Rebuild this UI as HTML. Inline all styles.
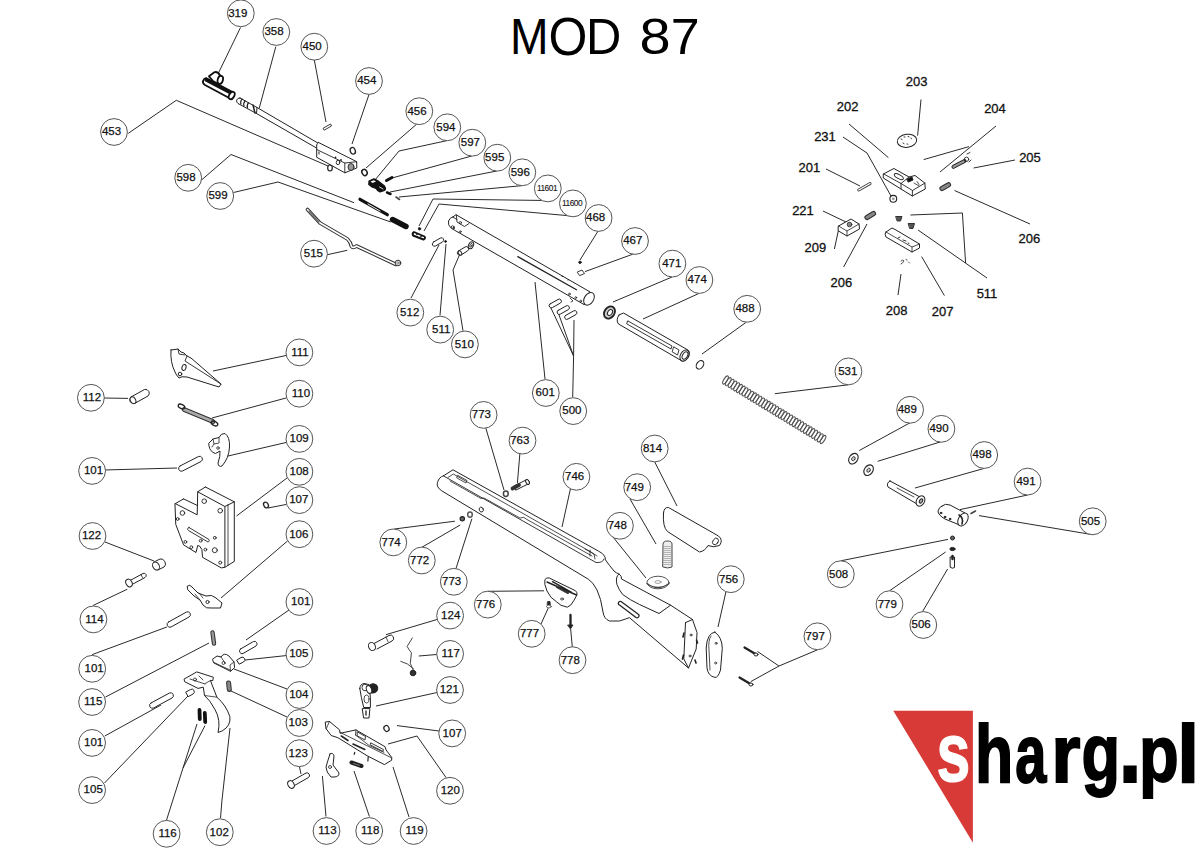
<!DOCTYPE html><html><head><meta charset="utf-8"><style>html,body{margin:0;padding:0;background:#fff;width:1200px;height:848px;overflow:hidden}svg{display:block}text{font-family:"Liberation Sans",sans-serif}</style></head><body>
<svg width="1200" height="848" viewBox="0 0 1200 848">
<text x="0" y="0" font-size="49.71" transform="translate(509.91 53.75) scale(0.9306 1)" fill="#000">M</text>
<text x="0" y="0" font-size="52.90" transform="translate(548.45 54.67) scale(0.9452 1)" fill="#000">O</text>
<text x="0" y="0" font-size="49.71" transform="translate(586.09 53.75) scale(0.9837 1)" fill="#000">D</text>
<text x="0" y="0" font-size="50.78" transform="translate(639.40 54.09) scale(1.1002 1)" fill="#000">8</text>
<text x="0" y="0" font-size="49.71" transform="translate(670.65 53.75) scale(1.0457 1)" fill="#000">7</text>
<g fill="none" stroke="#2a2a2a" stroke-width="1">
<polyline points="240.5,27.5 218.3,73.3"/>
<polyline points="275.8,46.7 259.2,108.3"/>
<polyline points="314.3,60 326,122"/>
<polyline points="369,94.5 352,144"/>
<polyline points="128.3,133.3 176.3,100.3 328,166"/>
<polyline points="201.5,180 231,154.5 354,202.7"/>
<polyline points="233.5,192.5 278,182 390.7,222"/>
<polyline points="327.3,254.7 347.3,250.3"/>
<polyline points="418,123 366,168"/>
<polyline points="446.7,140.7 399,151 375,180"/>
<polyline points="471.7,156 392,178"/>
<polyline points="496.7,171 390,192"/>
<polyline points="521.7,185.7 399,197"/>
<polyline points="546.7,200.5 433,199 419,226"/>
<polyline points="571.7,216 439,204 424,231"/>
<polyline points="598.3,230.7 580,260"/>
<polyline points="633.3,254 585,271.6"/>
<polyline points="672,277 613,302"/>
<polyline points="699,293.4 643,319"/>
<polyline points="746,322.4 702,354"/>
<polyline points="411,298 439,245"/>
<polyline points="440,315.4 446,244"/>
<polyline points="463,330.7 453,270 459,256"/>
<polyline points="535,282 545,379"/>
<polyline points="550,306 573.6,356 558,312"/>
<polyline points="573.6,356 574,320"/>
<polyline points="573.6,356 572.7,397"/>
<polyline points="848.4,384.8 774.8,393.7"/>
<polyline points="910.2,422.7 859.3,450.5"/>
<polyline points="941.4,441.6 877.7,461.3"/>
<polyline points="984.2,468.4 915,488"/>
<polyline points="1027.6,495 960,509.6"/>
<polyline points="1092.7,534.7 979,515.6"/>
<polyline points="840.8,560.8 948,539.4"/>
<polyline points="889.5,590.8 945.6,552"/>
<polyline points="922.5,611.6 947.6,569"/>
<polyline points="817.5,649.8 779,666 757.5,651.5"/>
<polyline points="779,666 750.8,681.6"/>
<polyline points="726,591.5 718,627"/>
<polyline points="654.5,461.5 677,506"/>
<polyline points="630,499 656,544"/>
<polyline points="613,537 646,578"/>
<polyline points="570.5,488.5 562,527"/>
<polyline points="485.5,427 504,490"/>
<polyline points="520,452 517.4,483"/>
<polyline points="394.4,529 454.9,521.2"/>
<polyline points="422,547.2 460.2,525"/>
<polyline points="456,568.5 471.9,518.7"/>
<polyline points="488,591.3 544,590.8"/>
<polyline points="541,624 548.2,608.2"/>
<polyline points="572.3,647 570.5,627.3"/>
<polyline points="437,619.5 385.9,634.7"/>
<polyline points="436.7,654.5 418.8,656"/>
<polyline points="437,692.5 376,706"/>
<polyline points="439,731 397,725.6"/>
<polyline points="446,777.5 417,736 388,744"/>
<polyline points="409,817 393,767"/>
<polyline points="369.4,816.5 354,771"/>
<polyline points="326,816.5 322.4,776"/>
<polyline points="220.5,818 222,800 230,728"/>
<polyline points="166.5,820.2 183,768 197,724"/>
<polyline points="183,768 205,725.6"/>
<polyline points="104.5,783 188,696"/>
<polyline points="104.8,736 161,705"/>
<polyline points="105.5,697 209,643"/>
<polyline points="92.2,654.6 166.9,627"/>
<polyline points="93,605.5 127.3,589.2"/>
<polyline points="105,542 154,561"/>
<polyline points="104,470 177,468"/>
<polyline points="104,398 128,398.4"/>
<polyline points="286,355.5 213,371"/>
<polyline points="286,398 212,418"/>
<polyline points="286,442.5 228,456"/>
<polyline points="287,478 236.5,516"/>
<polyline points="286,504.5 268,508"/>
<polyline points="287.5,541 221,598"/>
<polyline points="289,610 246,640"/>
<polyline points="286,655.6 245,660"/>
<polyline points="287,689 234,669"/>
<polyline points="287,717 231,691"/>
<polyline points="299.4,766.5 301,774"/>
<polyline points="921,99.5 917.6,135.6"/>
<polyline points="849,124 888.4,157.6"/>
<polyline points="843,137 867,153 891,196"/>
<polyline points="996,126 940,172"/>
<polyline points="969,146.6 923.6,159.6"/>
<polyline points="1015,160 973.6,168"/>
<polyline points="826,169 860,186"/>
<polyline points="954.5,190.5 1030,224"/>
<polyline points="823,211 846,222"/>
<polyline points="834.4,249 838.4,230.4"/>
<polyline points="843.6,267 867,224"/>
<polyline points="910.4,215 962.4,213 965.6,263"/>
<polyline points="918,230 987,278"/>
<polyline points="898,295 901,274"/>
<polyline points="944.4,295.6 921.6,256.6"/>
</g>
<g id="parts" stroke="#222" stroke-width="1" fill="#fff" stroke-linejoin="round" stroke-linecap="round">
<!-- 319 bolt handle -->
<g stroke="#111" stroke-width="1.8">
<path d="M206,78 L233,92.3 Q235.5,96 231.5,99 L229.7,98.3 L205,85 Q202,83 203.3,80.5 Q204,78.5 206,78 Z"/>
<path d="M206.3,79.8 L232,93.3" stroke-width="3.6"/>
<path d="M209,76.3 L214.3,72.3 Q217.5,71 220.3,75.7 L222.5,80 L219,84.5 L213,81 Z"/>
<ellipse cx="220.3" cy="79.8" rx="2.6" ry="4.1" transform="rotate(15 220.3 79.8)"/>
<ellipse cx="231.7" cy="95.5" rx="2.5" ry="4" transform="rotate(30 231.7 95.5)"/>
</g>
<!-- 358 barrel tip + tube -->
<path d="M240,98 L257,107.5 L256.5,113.5 L238,103.5 A3,3 0 0 1 240,98 Z"/>
<path d="M242,99 q-2,3 -1,5 M245,100.8 q-2,3 -1,5 M248.5,102.7 q-2,3 -1,5" fill="none" stroke-width="1.2"/>
<path d="M257,107.5 L317.5,142.8 M256.5,113.5 L316.5,148" fill="none"/>
<path d="M253,105 L255,113" fill="none" stroke-width="1.5"/>
<!-- block -->
<path d="M318.5,142.5 L356.7,161.7 L356.8,168 L344.8,172.8 L316.7,157.3 L316.7,145 Q317,143 318.5,142.5 Z"/>
<path d="M316.7,149.5 L344.8,163 L356.7,161.7 M344.8,163 L344.8,172.8" fill="none" stroke-width="0.9"/>
<ellipse cx="351" cy="167" rx="3" ry="3.5" fill="#999" stroke-width="0.9"/>
<circle cx="335.5" cy="157.5" r="0.9" fill="#222" stroke="none"/><circle cx="341" cy="160" r="0.9" fill="#222" stroke="none"/>
<ellipse cx="338" cy="162.5" rx="1.8" ry="2.2" fill="none" stroke-width="0.9"/>
<path d="M319,152 l0,2" stroke-width="1" fill="none"/>
<!-- 453 ring -->
<ellipse cx="330" cy="168" rx="2.3" ry="3" fill="none" stroke-width="1.2"/>
<!-- 450 pin -->
<path d="M323.5,128 L330.5,124 L331.5,126 L324.5,130 Z" stroke-width="0.9"/>
<!-- 454 o-ring -->
<ellipse cx="352.8" cy="150.8" rx="2.5" ry="3.4" transform="rotate(-20 352.8 150.8)" stroke-width="1.3"/>
<!-- 456 ring -->
<ellipse cx="364.5" cy="172.5" rx="2.5" ry="3.2" transform="rotate(-30 364.5 172.5)" stroke-width="1.5"/>
<!-- 594 T black -->
<path d="M369,181 L374,178.8 L377.5,180.5 L384.5,186 Q386.5,189 384.5,190.5 L380,192 Q377.5,191 376,188.5 L372,187 L368.8,184.5 Z" fill="#111" stroke="#111" stroke-width="1.2"/>
<path d="M370.5,181.5 L374,180.2 L376,181.5 L372.5,183 Z" fill="#fff" stroke="none"/>
<path d="M379.5,187 L383,189" stroke="#fff" stroke-width="0.8"/>
<!-- 597 595 596 small -->
<path d="M386.5,180.5 L392,177.5" stroke="#111" stroke-width="3"/>
<path d="M387,192.5 L390.5,194" stroke="#111" stroke-width="2.5"/>
<path d="M396,197 L399.5,199.5" stroke="#444" stroke-width="1.6"/>
<!-- 598 rod black -->
<path d="M360,199.3 L387.3,214.7" stroke="#111" stroke-width="3.2"/>
<path d="M368,204 L380,211" stroke="#fff" stroke-width="0.9"/>
<!-- 599 spring black -->
<path d="M392.5,219.5 L406,226.5" stroke="#111" stroke-width="5.5" stroke-linecap="round"/>
<!-- 11601 dot, 11600 part -->
<circle cx="419.5" cy="228.8" r="1.2" fill="#111"/>
<path d="M414,232 L424.5,236.5 Q426,238.5 423.5,239.5 L413,235.5 Q412,233 414,232 Z" fill="#fff" stroke="#111" stroke-width="1.9"/><circle cx="417" cy="234.5" r="0.8" fill="#111" stroke="none"/><circle cx="421" cy="236.5" r="0.8" fill="#111" stroke="none"/>
<!-- 515 cocking link -->
<path d="M307.5,209.5 L320,223 L347.5,239 Q350.5,242 351.5,246.5 Q353,248.5 356.5,246 L396,264.5" fill="none" stroke="#333" stroke-width="3.6"/>
<path d="M307.5,209.5 L320,223 L347.5,239 Q350.5,242 351.5,246.5 Q353,248.5 356.5,246 L396,264.5" fill="none" stroke="#fff" stroke-width="1.6"/>
<path d="M309,211 L319,222" fill="none" stroke="#666" stroke-width="1.2"/>
<circle cx="398" cy="263" r="2.8" fill="#fff" stroke="#333" stroke-width="1"/>
<circle cx="398" cy="263" r="1.2" fill="none" stroke="#555" stroke-width="0.7"/>
<!-- 512, 511, 510 -->
<path d="M433.5,242 L440.5,238 A2.2,2.2 0 0 1 442.5,242 L435.5,246 A2.2,2.2 0 0 1 433.5,242 Z"/>
<circle cx="445.6" cy="241.5" r="0.9" fill="#111"/>
<path d="M458.5,251 L465,247 A2.2,2.2 0 0 1 467.5,251 L461,255 A2.2,2.2 0 0 1 458.5,251 Z"/>
<ellipse cx="460" cy="253" rx="1.6" ry="2.3" transform="rotate(-30 460 253)"/>
<ellipse cx="471" cy="245.3" rx="2.4" ry="3.6" transform="rotate(25 471 245.3)"/>
<ellipse cx="471" cy="245.3" rx="1" ry="2" transform="rotate(25 471 245.3)" fill="none" stroke-width="0.8"/>
<!-- receiver tube -->
<path d="M456.3,214.9 L590,291.9 L584.3,304.7 L451.3,228.3 Q447.5,225 448.5,221 Q450,217.5 452.5,217 Z"/>
<path d="M456.3,214.9 L457,222 L464.5,226.5 L469,223.5 M452.5,217 L457,219.5" fill="none" stroke-width="0.9"/>
<ellipse cx="589" cy="298.8" rx="4.6" ry="6.9" transform="rotate(32 589 298.8)"/>
<path d="M517.8,256.6 L576.5,289.8" fill="none" stroke-width="1.3"/>
<circle cx="452.7" cy="227" r="1.3" fill="none" stroke-width="0.8"/><circle cx="454" cy="228" r="0.9" fill="#111" stroke="none"/>
<circle cx="460.3" cy="222.7" r="1.2" fill="none" stroke-width="0.8"/>
<circle cx="460.3" cy="231.7" r="0.9" fill="none" stroke-width="0.8"/>
<circle cx="569.4" cy="294" r="0.9" fill="none" stroke-width="0.8"/><circle cx="575.8" cy="297.6" r="0.9" fill="none" stroke-width="0.8"/>
<circle cx="580.7" cy="301.1" r="0.9" fill="none" stroke-width="0.8"/><path d="M570,298 l3,3 l-2,1" fill="none" stroke-width="0.8"/>
<circle cx="562.3" cy="276.4" r="0.6" fill="#111" stroke="none"/><circle cx="568" cy="280" r="0.6" fill="#111" stroke="none"/>
<!-- 468, 467 -->
<circle cx="580" cy="262.3" r="1.2" fill="#111"/>
<path d="M577.5,272 L582,270 L584.5,273.5 L580,275.5 Z" stroke-width="0.9"/>
<!-- 500 pins -->
<path d="M550,304 L558,299.5 A2,2 0 0 1 560.5,303 L552.5,307.5 A2,2 0 0 1 550,304 Z"/>
<path d="M558,310.5 L566,306 A2,2 0 0 1 568.5,309.5 L560.5,314 A2,2 0 0 1 558,310.5 Z"/>
<path d="M565.5,315.5 L573.5,311 A2,2 0 0 1 576,314.5 L568,319 A2,2 0 0 1 565.5,315.5 Z"/>
<!-- 471 ring -->
<ellipse cx="609.5" cy="312.5" rx="5" ry="6.5" transform="rotate(35 609.5 312.5)" stroke-width="1.8" fill="#ccc"/>
<ellipse cx="610" cy="312.5" rx="2.2" ry="3.2" transform="rotate(35 610 312.5)"/>
<!-- 474 piston -->
<path d="M619,315 L623.5,313 L687,349.5 A4.2,6.2 30 0 1 682,361 L618.5,324 Q615.5,320 619,315 Z"/>
<ellipse cx="684.5" cy="355.5" rx="4" ry="6" transform="rotate(30 684.5 355.5)"/>
<ellipse cx="685" cy="355.5" rx="2.4" ry="4" transform="rotate(30 685 355.5)"/>
<path d="M628,321 L672,346 L671,349 L627,324 Z" fill="none" stroke-width="0.9"/>
<path d="M674,347 L679,350 L677.5,355 L672.5,352 Z" fill="none" stroke-width="0.9"/>
<!-- 488 ring -->
<ellipse cx="700" cy="364.8" rx="3.3" ry="4.6" transform="rotate(35 700 364.8)" stroke-width="1.1"/>
<!-- 531 spring -->
<g fill="none" stroke="#555" stroke-width="1.1"><ellipse cx="725.5" cy="380.0" rx="1.7" ry="4.6" transform="rotate(31.4 725.5 380.0)"/><ellipse cx="728.3" cy="381.7" rx="1.7" ry="4.6" transform="rotate(31.4 728.3 381.7)"/><ellipse cx="731.1" cy="383.4" rx="1.7" ry="4.6" transform="rotate(31.4 731.1 383.4)"/><ellipse cx="733.9" cy="385.1" rx="1.7" ry="4.6" transform="rotate(31.4 733.9 385.1)"/><ellipse cx="736.6" cy="386.8" rx="1.7" ry="4.6" transform="rotate(31.4 736.6 386.8)"/><ellipse cx="739.4" cy="388.5" rx="1.7" ry="4.6" transform="rotate(31.4 739.4 388.5)"/><ellipse cx="742.2" cy="390.2" rx="1.7" ry="4.6" transform="rotate(31.4 742.2 390.2)"/><ellipse cx="745.0" cy="391.9" rx="1.7" ry="4.6" transform="rotate(31.4 745.0 391.9)"/><ellipse cx="747.8" cy="393.6" rx="1.7" ry="4.6" transform="rotate(31.4 747.8 393.6)"/><ellipse cx="750.6" cy="395.3" rx="1.7" ry="4.6" transform="rotate(31.4 750.6 395.3)"/><ellipse cx="753.4" cy="397.0" rx="1.7" ry="4.6" transform="rotate(31.4 753.4 397.0)"/><ellipse cx="756.1" cy="398.7" rx="1.7" ry="4.6" transform="rotate(31.4 756.1 398.7)"/><ellipse cx="758.9" cy="400.4" rx="1.7" ry="4.6" transform="rotate(31.4 758.9 400.4)"/><ellipse cx="761.7" cy="402.1" rx="1.7" ry="4.6" transform="rotate(31.4 761.7 402.1)"/><ellipse cx="764.5" cy="403.8" rx="1.7" ry="4.6" transform="rotate(31.4 764.5 403.8)"/><ellipse cx="767.3" cy="405.5" rx="1.7" ry="4.6" transform="rotate(31.4 767.3 405.5)"/><ellipse cx="770.1" cy="407.2" rx="1.7" ry="4.6" transform="rotate(31.4 770.1 407.2)"/><ellipse cx="772.9" cy="408.9" rx="1.7" ry="4.6" transform="rotate(31.4 772.9 408.9)"/><ellipse cx="775.6" cy="410.6" rx="1.7" ry="4.6" transform="rotate(31.4 775.6 410.6)"/><ellipse cx="778.4" cy="412.3" rx="1.7" ry="4.6" transform="rotate(31.4 778.4 412.3)"/><ellipse cx="781.2" cy="414.0" rx="1.7" ry="4.6" transform="rotate(31.4 781.2 414.0)"/><ellipse cx="784.0" cy="415.7" rx="1.7" ry="4.6" transform="rotate(31.4 784.0 415.7)"/><ellipse cx="786.8" cy="417.4" rx="1.7" ry="4.6" transform="rotate(31.4 786.8 417.4)"/><ellipse cx="789.6" cy="419.1" rx="1.7" ry="4.6" transform="rotate(31.4 789.6 419.1)"/><ellipse cx="792.4" cy="420.8" rx="1.7" ry="4.6" transform="rotate(31.4 792.4 420.8)"/><ellipse cx="795.1" cy="422.5" rx="1.7" ry="4.6" transform="rotate(31.4 795.1 422.5)"/><ellipse cx="797.9" cy="424.2" rx="1.7" ry="4.6" transform="rotate(31.4 797.9 424.2)"/><ellipse cx="800.7" cy="425.9" rx="1.7" ry="4.6" transform="rotate(31.4 800.7 425.9)"/><ellipse cx="803.5" cy="427.6" rx="1.7" ry="4.6" transform="rotate(31.4 803.5 427.6)"/><ellipse cx="806.3" cy="429.3" rx="1.7" ry="4.6" transform="rotate(31.4 806.3 429.3)"/><ellipse cx="809.1" cy="431.0" rx="1.7" ry="4.6" transform="rotate(31.4 809.1 431.0)"/><ellipse cx="811.9" cy="432.7" rx="1.7" ry="4.6" transform="rotate(31.4 811.9 432.7)"/><ellipse cx="814.6" cy="434.4" rx="1.7" ry="4.6" transform="rotate(31.4 814.6 434.4)"/><ellipse cx="817.4" cy="436.1" rx="1.7" ry="4.6" transform="rotate(31.4 817.4 436.1)"/><ellipse cx="820.2" cy="437.8" rx="1.7" ry="4.6" transform="rotate(31.4 820.2 437.8)"/><ellipse cx="823.0" cy="439.5" rx="1.7" ry="4.6" transform="rotate(31.4 823.0 439.5)"/></g>


</g>
<g id="parts2" stroke="#222" stroke-width="1" fill="#fff" stroke-linejoin="round" stroke-linecap="round">
<!-- rear sight 203 disc -->
<ellipse cx="907" cy="140.8" rx="9.8" ry="6.5" transform="rotate(-8 907 140.8)"/>
<path d="M901,139 l1,0.4 M904,137 l1,0 M908,136.5 l1,0.3 M911,138 l0.5,0.8 M903,143 l1,0.6 M907,144 l1,0.2" stroke-width="0.9"/>
<!-- 202 sight body -->
<path d="M883.6,173.9 L893.9,168.5 L909,177 L915,175.5 L924.8,183 L925.3,189 L912.3,196 L901,189 L883.6,178.2 Z"/>
<path d="M883.6,173.9 L901,183.5 L909,177 M901,183.5 L901,189 M901,183.5 L912.5,190.5 L925,183 M912.5,190.5 L912.3,196" fill="none" stroke-width="0.9"/>
<ellipse cx="898.8" cy="176.6" rx="5" ry="2" transform="rotate(28 898.8 176.6)" stroke-width="0.9"/>
<path d="M907,179 L912,177 L913,180 L908.5,182 Z" fill="#111"/>
<path d="M914,183 L919,186 M917,181.5 l2,3" fill="none" stroke-width="0.8"/>
<!-- 204 spring -->
<path d="M953.5,166.8 L964.5,161" stroke="#222" stroke-width="4"/><path d="M953.5,166.8 L964.5,161" stroke="#999" stroke-width="2.2" stroke-dasharray="0.7 1.1"/>
<circle cx="966.5" cy="159.3" r="2.2" fill="none" stroke-width="0.9"/>
<path d="M967,154 l3,-1.5 M969,162 l2,-2" fill="none" stroke-width="0.9"/>
<!-- 206 screws -->
<path d="M942,188.5 L948.5,184.8" stroke="#333" stroke-width="5.2"/>
<path d="M942,188.5 L948.5,184.8" stroke="#888" stroke-width="3" stroke-dasharray="0.8 1"/>
<path d="M867,217.5 L873.5,213.5" stroke="#333" stroke-width="5.2"/>
<path d="M867,217.5 L873.5,213.5" stroke="#888" stroke-width="3" stroke-dasharray="0.8 1"/>
<!-- 201 pin -->
<path d="M858.7,190 L870,183.6" stroke="#444" stroke-width="3"/>
<path d="M858.7,190 L870,183.6" stroke="#fff" stroke-width="1.2"/>
<!-- 231 nut -->
<circle cx="893.3" cy="198.8" r="3.4" stroke-width="1.1"/>
<circle cx="893.3" cy="198.8" r="1.4" fill="#999" stroke="none"/>
<!-- 221/209 block -->
<path d="M838.5,226 L851,219 L859,224 L859.5,229 L847,236 L838.5,231 Z"/>
<path d="M838.5,226 L847,231 L859,224 M847,231 L847,236" fill="none" stroke-width="0.8"/>
<circle cx="849.5" cy="224.5" r="2.3" fill="#888" stroke-width="0.8"/>
<!-- 511 screws -->
<path d="M896,216.5 L902,216.5 L900.5,221 L897.5,221 Z" fill="#555" stroke-width="0.9"/>
<path d="M908.5,223.5 L914.5,223.5 L913,228.5 L910,228.5 Z" fill="#555" stroke-width="0.9"/>
<!-- 207 base -->
<path d="M886,232 L892,228 L896,230 L919.5,244 L919.5,248 L912,252 L886,237 Q884,234 886,232 Z"/>
<path d="M886,232 L912,247 L919.5,244 M912,247 L912,252" fill="none" stroke-width="0.8"/>
<path d="M898,238 l2,-1 M903,240 l3,1 M908,243 l1,0.5" fill="none" stroke-width="0.9"/>
<!-- 208 -->
<path d="M901,261 q2,-2 3,0 q-1,2 -3,3 M906,259.5 l1,0.5 M908.5,262 l1,1" fill="none" stroke-width="0.8"/>

<!-- ===== trigger group ===== -->
<!-- 111 sear -->
<path d="M171,350 L178,349 L181,352 L184,353 L187,356 L191,358 L221,384 L219,387 L187,377 Q181,376 179,378 Q176,375 175,372 Q170,362 171,350 Z"/>
<path d="M187,356 L185,361 L221,384" fill="none" stroke-width="0.9"/>
<path d="M178,349 L179,354 L185,355" fill="none" stroke-width="0.9"/>
<ellipse cx="184" cy="367.5" rx="2" ry="3" transform="rotate(15 184 367.5)"/>
<circle cx="180" cy="374" r="1.8"/>
<!-- 112 pin -->
<path d="M131,397 L144.5,389.5 A3.8,3.8 0 0 1 148,396 L134.5,403.5 A3.8,3.8 0 0 1 131,397 Z"/>
<ellipse cx="133" cy="400.3" rx="2.6" ry="3.6" transform="rotate(-30 133 400.3)"/>
<!-- 110 spring -->
<path d="M184,409.5 L213,421.5" stroke="#333" stroke-width="4.6"/>
<path d="M184,409.5 L213,421.5" stroke="#aaa" stroke-width="2.6"/>
<ellipse cx="181.5" cy="406.5" rx="3.5" ry="2" transform="rotate(25 181.5 406.5)" fill="none" stroke-width="1.3"/>
<ellipse cx="214.5" cy="423.5" rx="3.5" ry="2" transform="rotate(25 214.5 423.5)" fill="none" stroke-width="1.3"/>
<!-- 109 -->
<path d="M209,443 L213,439 L219,437.5 Q221,433 225,433.5 Q230,437 229.5,447 Q229,458 222,466 Q218.5,467.5 218,463 Q220.5,456 220,451 L215.5,453.5 Q210,452 209,446 Z"/>
<path d="M213,439 L214,444 L219,443 L219,437.5 M214,444 L212,447" fill="none" stroke-width="0.8"/>
<circle cx="218" cy="448" r="1.3" fill="none" stroke-width="0.8"/>
<!-- 101 pin -->
<path d="M180,466 L198.5,456.5 A2.8,2.8 0 0 1 201,461.5 L182.5,471 A2.8,2.8 0 0 1 180,466 Z"/>
<!-- 108 plate -->
<path d="M205.4,487 L234.3,501.8 L234.3,561.4 L224.9,567.3" fill="none"/>
<path d="M197.7,491.8 L205.4,487 M224.9,506.5 L234.3,501.8 M183.6,498.9 L197.2,505.4 M175.3,503.6 L183.6,498.9" fill="none"/>
<path d="M175.3,503.6 L197.2,514.8 L197.7,491.8 L224.9,506.5 L224.9,567.3 L221.3,567.9 L202.5,557.3 L201.9,549.6 L199.5,546 L197.7,545.5 L196,552.5 L183.6,544.9 L175.9,524.8 Z"/>
<path d="M228,504.5 L228,565.5" fill="none" stroke-width="0.8"/>
<g fill="none" stroke-width="0.9">
<circle cx="182.4" cy="513" r="2.3"/><circle cx="204.2" cy="501.2" r="2.3"/><circle cx="220.2" cy="510.7" r="2.3"/>
<circle cx="214.8" cy="550.2" r="2.5"/><circle cx="177.7" cy="519" r="1.4"/><circle cx="185.4" cy="541.9" r="1.4"/>
<circle cx="191.3" cy="547.2" r="1.4"/><circle cx="205.4" cy="549.6" r="1.4"/><circle cx="200.7" cy="540.7" r="1.4"/>
<circle cx="214.8" cy="537.8" r="1.4"/><circle cx="220.2" cy="562.6" r="1.5"/>
<path d="M189,527.5 L209,539.5 A1.6,1.6 0 0 1 208,542 L188.5,530.5 A1.6,1.6 0 0 1 189,527.5 Z"/>
</g>
<!-- 107 washer -->
<ellipse cx="266" cy="505" rx="2.2" ry="3" transform="rotate(-30 266 505)" stroke-width="1.3"/>
<!-- 122 bushing -->
<path d="M154,562 L160,559 A3.5,4.5 -30 0 1 164,567 L158,570 Z"/>
<ellipse cx="156" cy="566" rx="3.2" ry="4.2" transform="rotate(-30 156 566)"/>
<!-- 114 pin -->
<path d="M131,580 L143,573.5 A2,2 0 0 1 145,577.5 L133,584" />
<ellipse cx="129" cy="583" rx="3" ry="4" transform="rotate(-30 129 583)"/>
<path d="M141,574.5 l1.5,3" fill="none" stroke-width="0.8"/>
<!-- 106 lever -->
<path d="M187.5,586 Q190,584 192,587 L198,593 L206,596 Q212,594 216,598 L222,603 L220.5,608 L211,608 Q206,609 203,605 L200,600 L194,596 L188,590 Z"/>
<circle cx="207.5" cy="602" r="1.6" fill="none" stroke-width="0.9"/>
<path d="M195,594 L200,600 M199,593 L203,598" fill="none" stroke-width="0.8"/>
<!-- 101 pin (2nd) -->
<path d="M168.5,622 L186.5,612 A2.8,2.8 0 0 1 189,617 L171,627 A2.8,2.8 0 0 1 168.5,622 Z"/>
<!-- 115 spring -->
<path d="M212.5,632.5 L214,643.5" stroke="#333" stroke-width="4.4"/>
<path d="M212.5,632.5 L214,643.5" stroke="#999" stroke-width="2.4" stroke-dasharray="0.8 1"/>
<!-- 101 pin right -->
<path d="M240.5,649 L253.5,641.5 A2.6,2.6 0 0 1 256,646 L243,653.5 A2.6,2.6 0 0 1 240.5,649 Z"/>
<!-- 105 small right -->
<path d="M237,660 L241,657.5 A2.4,2.4 0 0 1 243.5,662 L239.5,664 Z"/>
<!-- 104 block -->
<path d="M212.8,659 L217,656 L221,657 Q224,652 229,656 L234,662 L234.6,667.7 L230.5,671.3 L214,663 Z"/>
<path d="M214,662.5 L230,670 M230.5,671.3 L230,665 L234,662 M221,657 L225,663" fill="none" stroke-width="0.8"/>
<circle cx="223.5" cy="663" r="1.5" fill="none" stroke-width="0.8"/>
<!-- 102 trigger -->
<path d="M184.4,678.9 L196.8,671.9 L213.3,677.2 L212.8,680.7 L210.4,680.5 L216.9,697.2 Q226,705 229.9,716.7 Q231,726 222.2,730.9 L218,732.5 Q221,720 215,709.6 Q210,700 204.5,695.5 L203.3,687.2 L198,688.4 L185,681.9 Z"/>
<path d="M205,683.7 L210.4,680.5 M204.5,695.5 L216.9,697.2 M190,679 L205,684 M199,676 L203,680" fill="none" stroke-width="0.8"/>
<circle cx="195" cy="679.5" r="1.5" fill="none" stroke-width="0.8"/>
<!-- 103 spring -->
<path d="M228.6,683 L229.3,689.5" stroke="#333" stroke-width="5"/>
<path d="M228.6,683 L229.3,689.5" stroke="#888" stroke-width="3" stroke-dasharray="0.8 1"/>
<!-- 101 lower pin -->
<path d="M151,703 L169.5,693 A2.8,2.8 0 0 1 172,698 L153.5,708 A2.8,2.8 0 0 1 151,703 Z"/>
<!-- 105 small left -->
<path d="M186,692 L190.5,689.5 A2.4,2.4 0 0 1 193,694 L188.5,696.5 Z"/>
<!-- 116 springs -->
<path d="M199.5,710 L199.8,719" stroke="#111" stroke-width="3.8"/>
<path d="M204.8,713 L205.2,722" stroke="#111" stroke-width="3.8"/>
<!-- 123 pin -->
<path d="M292,781 L306,773 A2.6,2.6 0 0 1 308.5,777.5 L294.5,785.5" />
<ellipse cx="291" cy="784.5" rx="3" ry="4" transform="rotate(-30 291 784.5)"/>
</g>
<g id="parts3" stroke="#222" stroke-width="1" fill="#fff" stroke-linejoin="round" stroke-linecap="round">
<!-- stock 746 silhouette -->
<path d="M453.3,470 L598.3,551 Q606,555 605.4,559.8 Q609,565 614,571 Q616,573 619,574 Q622,576 621.5,579 L670.6,605.2 L692.5,619.5 L697,632.5 L696.2,649 L688.5,668 L629.4,617.6 Q626,619 619.4,621 L609.5,621 Q604,619 603,612 Q601,598 597,590 Q593,582 588.3,579.2 L441.7,490.8 Q436,487 437.5,482.5 Q439,477 443.3,475.8 Z"/>
<path d="M619,574 Q615,577 617,584.6 Q619,590 622.7,594.5 Q630,600 639.3,604.4 L659,613.5 L670.6,605.2" fill="none"/>
<path d="M443.3,475.8 L596,562.5 Q603,563 604,559" fill="none" stroke-width="0.9"/>
<path d="M448,477.5 L453.3,474 L591,552 L597,556" fill="none" stroke-width="0.8"/>
<path d="M450,481 L481,498.5 L484,498 L520,518 Q524,516 527,519.5 L592,556" fill="none" stroke-width="0.8"/>
<path d="M458,475.5 L467,480.5 L466,483 L457,478 Z" fill="none" stroke-width="0.8"/>
<path d="M585,549 L594,554 L595,559 M590,550 L590,556" fill="none" stroke-width="0.8"/>
<ellipse cx="481.3" cy="509.6" rx="2" ry="2.5" transform="rotate(-20 481.3 509.6)" fill="none" stroke-width="0.9"/>
<path d="M685.5,622.6 L683.8,658.9 L688.5,668 M692.5,619.5 L685.5,622.6" fill="none"/>
<circle cx="691" cy="635" r="1" fill="none" stroke-width="0.8"/><circle cx="690" cy="656" r="1" fill="none" stroke-width="0.8"/>
<path d="M684,633 l-1,4 M683.5,655 l-1,4 M696.5,640 l1,3 M695,660 l1,3" stroke-width="1.6" fill="none"/>
<!-- slot -->
<path d="M621,601.5 L638,614 A1.8,1.8 0 0 1 636,617.5 L619.5,605 A1.8,1.8 0 0 1 621,601.5 Z" stroke-width="1.2"/>
<!-- 814 cheek piece -->
<path d="M663.5,513 Q664,507 668.5,507.5 L718.5,536 Q723.5,540 719.5,545.5 Q713,548 708,545.5 Q705,551 699.5,552 L667.5,531.5 Q662.5,527 663.5,513 Z"/>
<ellipse cx="715.5" cy="541.5" rx="2.6" ry="3.6" transform="rotate(35 715.5 541.5)" fill="none" stroke-width="0.9"/>
<!-- 749 threaded rod -->
<path d="M663,544 Q663,541 667.5,541 Q672,541 672,544 L672,567 Q667.5,569 663,567 Z" fill="#eee" stroke="#444"/>
<path d="M663,546.5 h9 M663,548.5 h9 M663,550.5 h9 M663,552.5 h9 M663,554.5 h9 M663,556.5 h9 M663,558.5 h9 M663,560.5 h9 M663,562.5 h9 M663,564.5 h9" stroke="#999" stroke-width="0.7"/>
<!-- 748 disc -->
<ellipse cx="658" cy="582.5" rx="11" ry="6.3" fill="#fff" stroke="#555" stroke-width="1"/>
<path d="M647,583.5 Q658,591.5 669,583.5" fill="none" stroke="#444" stroke-width="1.3"/>
<ellipse cx="658" cy="582" rx="3.2" ry="1.4" fill="none" stroke="#888" stroke-width="0.8"/>
<!-- 756 butt pad -->
<path d="M714.9,632.1 Q722,637 722.3,648.2 L720.5,670 Q718,678 714.9,677.4 Q708,676 707,668 L706.2,648 Q707,633 714.9,632.1 Z"/>
<path d="M711,636 Q708,640 709,650 L710,670" fill="none" stroke-width="0.8"/>
<circle cx="716.1" cy="643.3" r="1" fill="none" stroke-width="0.8"/><circle cx="715.6" cy="663" r="1" fill="none" stroke-width="0.8"/>
<!-- 797 screws -->
<path d="M744.5,647.5 L755.5,654" stroke="#222" stroke-width="2.2"/>
<ellipse cx="756" cy="654.5" rx="2" ry="1.5" fill="#fff" stroke-width="1"/>
<path d="M739.5,677.5 L750.5,684" stroke="#222" stroke-width="2.2"/>
<ellipse cx="751" cy="684.5" rx="2" ry="1.5" fill="#fff" stroke-width="1"/>
<!-- 763 screw -->
<path d="M514,486 L526,480 A2.2,2.2 0 0 1 528,484 L516,490 Z"/>
<path d="M512.5,488.5 L519,485" stroke="#333" stroke-width="3.8"/>
<ellipse cx="527.5" cy="482" rx="1.6" ry="2.6" transform="rotate(-30 527.5 482)"/>
<!-- 773 washer, 774 nut, 773b -->
<ellipse cx="505.8" cy="493.8" rx="2.4" ry="2.7" stroke="#444" stroke-width="1.5"/>
<circle cx="462.3" cy="518.8" r="2.2" fill="#666" stroke="#222" stroke-width="1.1"/>
<ellipse cx="470" cy="514.6" rx="2.3" ry="2.7" stroke="#555" stroke-width="1.5"/>
<!-- 776 trigger guard piece -->
<path d="M545,579.6 Q546,577 549.3,578 L575,590.5 Q578,592 576.9,595 L573.7,600.8 Q571,606 567.3,607.2 Q560,606 556.7,601.9 Q550,598 547,591 L545,584.9 Z"/>
<path d="M547,582 L576.5,595 M552.5,581.7 L571.6,592.3" fill="none" stroke-width="1.4"/>
<path d="M557,587 L568,593" stroke="#333" stroke-width="2"/>
<ellipse cx="562" cy="599" rx="1.5" ry="1" fill="none" stroke-width="0.8"/>
<!-- 777 -->
<path d="M547.8,601.5 L550,601.5 L550.3,605 L547.5,605 Z" fill="#222" stroke="#222" stroke-width="0.8"/>
<ellipse cx="548.9" cy="606.5" rx="2.4" ry="1.4" fill="#fff" stroke="#444" stroke-width="0.8"/>
<!-- 778 screw -->
<path d="M570.5,615 L570.5,627" stroke="#222" stroke-width="2.3"/>
<path d="M568,625 L573,625 L570.5,628.5 Z" fill="#222" stroke-width="0.9"/>
<!-- 124 pin -->
<path d="M374,643.5 L389,635.5 A2.8,2.8 0 0 1 392,641 L377,649"/>
<ellipse cx="372" cy="646.5" rx="3.3" ry="4.2" transform="rotate(-30 372 646.5)"/>
<path d="M386,637 l2,4.5" fill="none" stroke-width="0.8"/>
<!-- 117 wire spring -->
<path d="M412.4,637.9 L407.1,646.4 Q409,650 411.4,652.8 L410.3,663.4 L413.5,670.8 M400.8,661.3 Q408,663 413.5,668.7" fill="none" stroke="#444" stroke-width="1"/>
<circle cx="413" cy="673" r="2.8" fill="#333"/>
<!-- 121 safety -->
<path d="M359.8,688.4 Q360,684 364,683.5 L369,684.5 L370.4,697.4 L370.4,707.5 L363.7,707.5 Q361,697 359.8,688.4 Z"/>
<ellipse cx="365" cy="687.5" rx="3" ry="3.3" fill="none" stroke-width="0.9"/>
<ellipse cx="366.5" cy="699" rx="2.5" ry="4" fill="none" stroke-width="0.8"/>
<path d="M362.6,708.6 L369.9,708.6 L369,718 L364,718 Z"/>
<path d="M366,711 l0,4" stroke-width="1.3" fill="none"/>
<ellipse cx="373" cy="688.4" rx="4.8" ry="4.6" transform="rotate(-30 373 688.4)" fill="#222"/>
<ellipse cx="369" cy="689.5" rx="2.5" ry="4" transform="rotate(-20 369 689.5)" fill="#fff" stroke-width="1"/>
<!-- 107 washer lower -->
<ellipse cx="386.5" cy="728.5" rx="2.5" ry="3" transform="rotate(-30 386.5 728.5)" stroke-width="1.2"/>
<!-- 119/120 plate -->
<path d="M325.6,722 L329.5,721.5 L339.6,729.9 L340.2,733.3 L355.9,729.9 L385,746.7 L386.1,750 L391.7,757.4 L391.7,760.2 L384.4,764.6 L367,755.7 L337.9,737.7 L331.2,735.5 L326.2,728.8 Z"/>
<path d="M339.6,732.1 L391.7,757.9 M355.9,729.9 L355.5,735 M383.9,752.3 L369.3,745.6 L355.5,735 M326.2,728.8 L329.5,721.5" fill="none" stroke-width="0.8"/>
<path d="M341.3,736 L348,740.5 M353,744 L364.8,749.5" stroke-width="1.6" fill="none"/>
<path d="M357.5,732 L365.5,736.5 L365,740 L357.5,736 Z M371,743 L383.5,749.5 L383,751.5 L370.5,745 Z" fill="none" stroke-width="0.9"/>
<path d="M354.7,752.3 l-0.5,2 M368.2,757 l-0.3,4" stroke-width="1.2" fill="none"/>
<!-- 113 -->
<path d="M330,754 Q333,752 334,756 L333,765 L339,773 Q339,777 334,777 L331,777 Q326,772 326,767 Q328,760 330,754 Z"/>
<circle cx="330" cy="767" r="1.5" fill="none" stroke-width="0.8"/>
<!-- 118 spring -->
<path d="M351.5,762.5 L361.5,766" stroke="#222" stroke-width="4"/>
<path d="M353.5,763.5 L359.5,765.3" stroke="#777" stroke-width="1"/>
<!-- ===== right side ===== -->
<ellipse cx="853.4" cy="458.7" rx="4.2" ry="5.8" transform="rotate(35 853.4 458.7)" stroke-width="1.1"/>
<ellipse cx="853.4" cy="458.7" rx="1.6" ry="2.2" transform="rotate(35 853.4 458.7)" fill="#ccc" stroke-width="0.8"/>
<ellipse cx="868.6" cy="470.2" rx="4.2" ry="5.8" transform="rotate(35 868.6 470.2)" stroke-width="1.1"/>
<ellipse cx="868.6" cy="470.2" rx="1.6" ry="2.2" transform="rotate(35 868.6 470.2)" fill="#ccc" stroke-width="0.8"/>
<!-- 498 bolt -->
<path d="M890,481 L920,497 L917,504 L888,487 Q886,483 890,481 Z"/>
<ellipse cx="920.5" cy="501" rx="4" ry="5.5" transform="rotate(30 920.5 501)"/>
<ellipse cx="921" cy="501" rx="1.5" ry="2.3" transform="rotate(30 921 501)" fill="#aaa"/>
<path d="M897,488 L914,497" fill="none" stroke-width="0.8"/>
<!-- 491 block -->
<path d="M942,506 Q945,503 950,505 L965,513 L962,526 L945,519 Q938,515 938,511 Q939,507 942,506 Z"/>
<ellipse cx="963" cy="519.5" rx="4.5" ry="7" transform="rotate(30 963 519.5)"/>
<path d="M959,515 Q964,518 962,524" fill="none" stroke-width="1.6"/>
<circle cx="941" cy="513" r="0.8" fill="#222"/><circle cx="945" cy="517" r="0.8" fill="#222"/><circle cx="950" cy="519" r="0.8" fill="#222"/>
<!-- 505 -->
<path d="M971,513.5 L975.5,511" stroke="#444" stroke-width="1.6"/>
<!-- 508 779 506 -->
<circle cx="952.5" cy="538" r="2" fill="#666"/>
<ellipse cx="952.5" cy="549" rx="2.6" ry="1.6" fill="#222"/>
<path d="M950.5,557 L954.5,557 L954.5,567.5 Q952.5,569 950.5,567.5 Z"/>
<path d="M952.5,556 L952.5,559" stroke="#222" stroke-width="2.5"/>
</g>

<g fill="#fff" stroke="#555" stroke-width="1">
<circle cx="240.8" cy="13.3" r="13.4"/>
<circle cx="276.3" cy="32" r="13.4"/>
<circle cx="314.3" cy="46.7" r="13.4"/>
<circle cx="369" cy="81" r="13.4"/>
<circle cx="114" cy="132" r="13.4"/>
<circle cx="188.2" cy="177.8" r="13.4"/>
<circle cx="220.2" cy="196" r="13.4"/>
<circle cx="314" cy="253.7" r="13.4"/>
<circle cx="419.3" cy="111.2" r="13.4"/>
<circle cx="447.3" cy="127.3" r="13.4"/>
<circle cx="472.3" cy="142.7" r="13.4"/>
<circle cx="497.3" cy="157.7" r="13.4"/>
<circle cx="522.3" cy="172.3" r="13.4"/>
<circle cx="547.8" cy="188.4" r="13.4"/>
<circle cx="572.9" cy="203.4" r="13.4"/>
<circle cx="598.6" cy="218" r="13.4"/>
<circle cx="635" cy="241" r="13.4"/>
<circle cx="672.4" cy="263.6" r="13.4"/>
<circle cx="699.4" cy="280" r="13.4"/>
<circle cx="747.2" cy="308.8" r="13.4"/>
<circle cx="410.3" cy="312.6" r="13.4"/>
<circle cx="440.2" cy="329.6" r="13.4"/>
<circle cx="464.9" cy="344.4" r="13.4"/>
<circle cx="545.8" cy="393" r="13.4"/>
<circle cx="573.2" cy="411.1" r="13.4"/>
<circle cx="848.4" cy="371.4" r="13.4"/>
<circle cx="910.1" cy="409.8" r="13.4"/>
<circle cx="941.4" cy="428.8" r="13.4"/>
<circle cx="984.2" cy="455" r="13.4"/>
<circle cx="1027.6" cy="481.6" r="13.4"/>
<circle cx="1092.7" cy="521.3" r="13.4"/>
<circle cx="840.8" cy="574.2" r="13.4"/>
<circle cx="889.5" cy="604.2" r="13.4"/>
<circle cx="923.3" cy="625" r="13.4"/>
<circle cx="817.4" cy="636.3" r="13.4"/>
<circle cx="730.8" cy="579.2" r="13.4"/>
<circle cx="654.7" cy="448.5" r="13.4"/>
<circle cx="637.2" cy="487.2" r="13.4"/>
<circle cx="619.9" cy="525.8" r="13.4"/>
<circle cx="576.4" cy="476.8" r="13.4"/>
<circle cx="483.6" cy="414.9" r="13.4"/>
<circle cx="522.5" cy="440.6" r="13.4"/>
<circle cx="393.3" cy="542.4" r="13.4"/>
<circle cx="421.8" cy="560.5" r="13.4"/>
<circle cx="453.8" cy="581.8" r="13.4"/>
<circle cx="487.8" cy="604.6" r="13.4"/>
<circle cx="531.7" cy="633.8" r="13.4"/>
<circle cx="572.5" cy="660.2" r="13.4"/>
<circle cx="450.1" cy="615.6" r="13.4"/>
<circle cx="450.1" cy="653.9" r="13.4"/>
<circle cx="450" cy="690" r="13.4"/>
<circle cx="452.2" cy="733.4" r="13.4"/>
<circle cx="450" cy="790.8" r="13.4"/>
<circle cx="413.6" cy="831" r="13.4"/>
<circle cx="369.2" cy="831" r="13.4"/>
<circle cx="326.5" cy="831" r="13.4"/>
<circle cx="219.8" cy="832.2" r="13.4"/>
<circle cx="166.6" cy="833.8" r="13.4"/>
<circle cx="92.1" cy="790.1" r="13.4"/>
<circle cx="92.1" cy="742.9" r="13.4"/>
<circle cx="92.1" cy="702" r="13.4"/>
<circle cx="92.2" cy="668.8" r="13.4"/>
<circle cx="93.4" cy="619.4" r="13.4"/>
<circle cx="92.5" cy="536" r="13.4"/>
<circle cx="92.1" cy="470.9" r="13.4"/>
<circle cx="90.9" cy="397.8" r="13.4"/>
<circle cx="299.4" cy="352.4" r="13.4"/>
<circle cx="299.4" cy="393.7" r="13.4"/>
<circle cx="299.4" cy="438.9" r="13.4"/>
<circle cx="299.4" cy="471.8" r="13.4"/>
<circle cx="299.4" cy="500.1" r="13.4"/>
<circle cx="299.4" cy="534.2" r="13.4"/>
<circle cx="299.4" cy="602" r="13.4"/>
<circle cx="299.4" cy="654" r="13.4"/>
<circle cx="299.4" cy="695" r="13.4"/>
<circle cx="299.4" cy="723" r="13.4"/>
<circle cx="299.4" cy="753.2" r="13.4"/>
</g>
<g fill="#111" stroke="#111" stroke-width="0.25" font-size="11.5" text-anchor="middle">
<text x="237.8" y="16.6">319</text>
<text x="274" y="35.3">358</text>
<text x="312.1" y="50">450</text>
<text x="366.8" y="84.3">454</text>
<text x="111.5" y="135.3">453</text>
<text x="186" y="181.1">598</text>
<text x="218" y="199.3">599</text>
<text x="313.4" y="257">515</text>
<text x="417" y="114.5">456</text>
<text x="445.9" y="130.6">594</text>
<text x="470.4" y="146">597</text>
<text x="494.7" y="161">595</text>
<text x="520.3" y="175.6">596</text>
<text x="547" y="191.4" font-size="8.3" letter-spacing="-0.45" stroke-width="0.1">11601</text>
<text x="572.1" y="206.4" font-size="8.3" letter-spacing="-0.45" stroke-width="0.1">11600</text>
<text x="595.6" y="221.3">468</text>
<text x="632.8" y="244.3">467</text>
<text x="671.8" y="266.9">471</text>
<text x="697.2" y="283.3">474</text>
<text x="745" y="312.1">488</text>
<text x="409.7" y="315.9">512</text>
<text x="441.2" y="332.9">511</text>
<text x="464.3" y="347.7">510</text>
<text x="545.2" y="396.3">601</text>
<text x="571.9" y="414.4">500</text>
<text x="847.8" y="374.7">531</text>
<text x="907.3" y="413.1">489</text>
<text x="939" y="432.1">490</text>
<text x="982" y="458.3">498</text>
<text x="1026" y="484.9">491</text>
<text x="1090.5" y="524.6">505</text>
<text x="838.6" y="577.5">508</text>
<text x="887.3" y="607.5">779</text>
<text x="921.1" y="628.3">506</text>
<text x="815.2" y="639.6">797</text>
<text x="728.6" y="582.5">756</text>
<text x="652.5" y="451.8">814</text>
<text x="634.3" y="490.5">749</text>
<text x="617.3" y="529.1">748</text>
<text x="574.6" y="480.1">746</text>
<text x="481.4" y="418.2">773</text>
<text x="519.8" y="443.9">763</text>
<text x="391.1" y="545.7">774</text>
<text x="419.6" y="563.8">772</text>
<text x="451.6" y="585.1">773</text>
<text x="485.6" y="607.9">776</text>
<text x="529.5" y="637.1">777</text>
<text x="570.3" y="663.5">778</text>
<text x="450.7" y="618.9">124</text>
<text x="450.7" y="657.2">117</text>
<text x="449.3" y="693.3">121</text>
<text x="452.2" y="736.7">107</text>
<text x="450.3" y="794.1">120</text>
<text x="414.6" y="834.3">119</text>
<text x="370.2" y="834.3">118</text>
<text x="327.5" y="834.3">113</text>
<text x="219.2" y="835.5">102</text>
<text x="167.6" y="837.1">116</text>
<text x="93.2" y="793.4">105</text>
<text x="93.6" y="746.2">101</text>
<text x="93.2" y="705.3">115</text>
<text x="94.1" y="672.1">101</text>
<text x="94.4" y="622.7">114</text>
<text x="91.5" y="539.3">122</text>
<text x="93.5" y="474.2">101</text>
<text x="91.9" y="401.1">112</text>
<text x="300" y="355.7">111</text>
<text x="301" y="397">110</text>
<text x="299.1" y="442.2">109</text>
<text x="299.1" y="475.1">108</text>
<text x="298.8" y="503.4">107</text>
<text x="298.8" y="537.5">106</text>
<text x="300.7" y="605.3">101</text>
<text x="298.8" y="657.3">105</text>
<text x="298.8" y="698.3">104</text>
<text x="298.2" y="726.3">103</text>
<text x="298.2" y="756.5">123</text>
</g>
<g fill="#111" stroke="#111" stroke-width="0.3" font-size="13" text-anchor="middle">
<text x="916.7" y="85.7">203</text>
<text x="847.7" y="110.7">202</text>
<text x="995" y="113">204</text>
<text x="825" y="140.7">231</text>
<text x="1030" y="162.4">205</text>
<text x="809.4" y="171.7">201</text>
<text x="803" y="214.7">221</text>
<text x="815.4" y="252.3">209</text>
<text x="1029.4" y="242.7">206</text>
<text x="841.4" y="286.7">206</text>
<text x="987" y="298.3">511</text>
<text x="896.6" y="314.7">208</text>
<text x="942.6" y="316.3">207</text>
</g>
<polygon points="893.3,710.7 972.9,710.7 972.9,842.7" fill="#d83a37"/>
<text x="0" y="0" font-size="82.18" transform="translate(975.12 781.90) scale(0.7611 1)" fill="#000" stroke="#000" stroke-width="1.80" font-weight="bold">h</text>
<text x="0" y="0" font-size="81.72" transform="translate(1015.28 781.58) scale(0.6855 1)" fill="#000" stroke="#000" stroke-width="1.80" font-weight="bold">a</text>
<text x="0" y="0" font-size="82.16" transform="translate(1051.23 781.90) scale(0.9159 1)" fill="#000" stroke="#000" stroke-width="1.80" font-weight="bold">r</text>
<text x="0" y="0" font-size="79.47" transform="translate(1081.41 780.45) scale(0.7946 1)" fill="#000" stroke="#000" stroke-width="1.80" font-weight="bold">g</text>
<text x="0" y="0" font-size="104.05" transform="translate(1118.52 781.90) scale(0.8032 1)" fill="#000" stroke="#000" stroke-width="1.80" font-weight="bold">.</text>
<text x="0" y="0" font-size="79.79" transform="translate(1139.11 780.70) scale(0.8148 1)" fill="#000" stroke="#000" stroke-width="1.80" font-weight="bold">p</text>
<text x="0" y="0" font-size="82.18" transform="translate(1177.19 781.90) scale(0.9573 1)" fill="#000" stroke="#000" stroke-width="1.80" font-weight="bold">l</text>
<text x="0" y="0" font-size="82.48" transform="translate(936.47 780.68) scale(0.7365 1)" fill="#fff" stroke="#fff" stroke-width="1.20" font-weight="bold">s</text>
</svg></body></html>
